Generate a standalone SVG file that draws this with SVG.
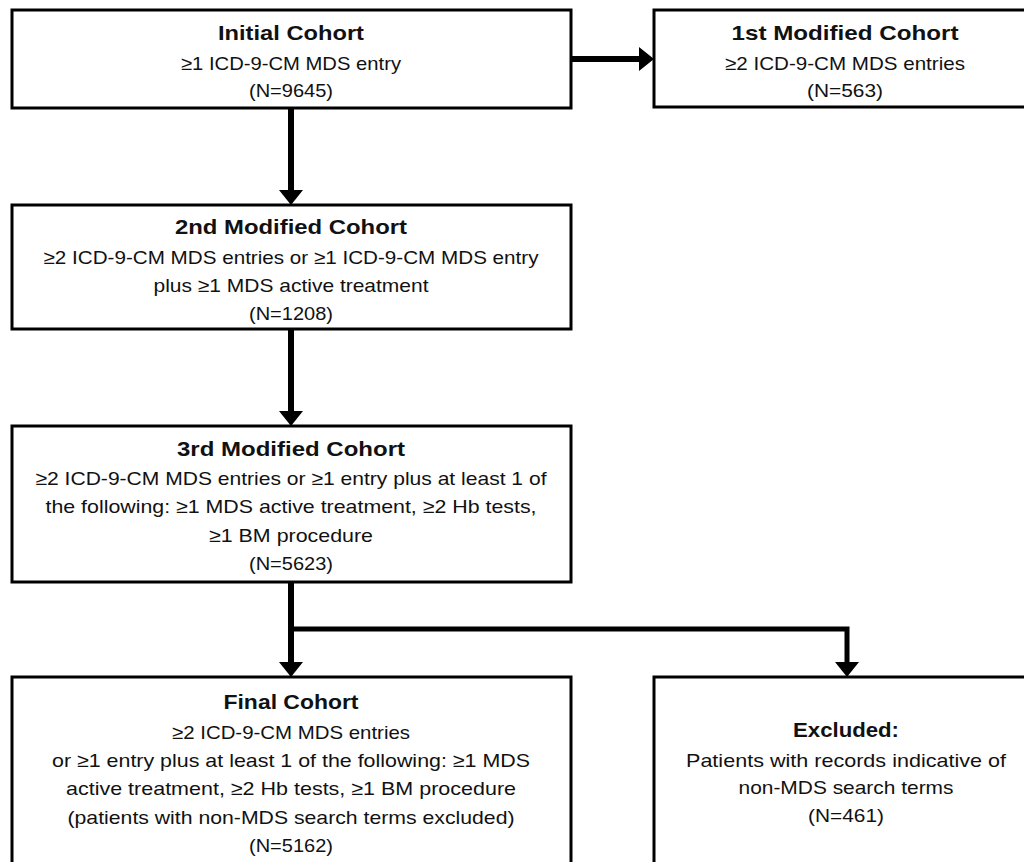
<svg xmlns="http://www.w3.org/2000/svg" width="1024" height="862" viewBox="0 0 1024 862">
<style>
.box{fill:#fff;stroke:#000;stroke-width:3}
.t{font-family:"Liberation Sans",Arial,sans-serif;font-size:19px;fill:#111;text-anchor:middle}
.h{font-family:"Liberation Sans",Arial,sans-serif;font-size:21px;font-weight:bold;fill:#111;text-anchor:middle}
.c{fill:none;stroke:#000;stroke-width:6}
.b{fill:none;stroke:#000;stroke-width:5}
</style>
<defs>
<marker id="ah" markerUnits="userSpaceOnUse" markerWidth="15" markerHeight="24" refX="0" refY="12" orient="auto" overflow="visible">
<path d="M0,0 L15,12 L0,24 Z" fill="#000"/>
</marker>
</defs>
<rect width="1024" height="862" fill="#fff"/>
<g id="connectors">
<line class="c" x1="571" y1="59" x2="639" y2="59" marker-end="url(#ah)"/>
<line class="c" x1="291" y1="108" x2="291" y2="190" marker-end="url(#ah)"/>
<line class="c" x1="291" y1="329" x2="291" y2="411" marker-end="url(#ah)"/>
<line class="c" x1="291" y1="582" x2="291" y2="662" marker-end="url(#ah)"/>
<polyline class="b" points="291,629 847,629 847,662" marker-end="url(#ah)"/>
</g>
<g id="initial">
<rect class="box" x="12" y="10" width="559" height="98"/>
<text class="h" x="291" y="40" textLength="146" lengthAdjust="spacingAndGlyphs">Initial Cohort</text>
<text class="t" x="291" y="70" textLength="220" lengthAdjust="spacingAndGlyphs">≥1 ICD-9-CM MDS entry</text>
<text class="t" x="291" y="97" textLength="84" lengthAdjust="spacingAndGlyphs">(N=9645)</text>
</g>
<g id="first">
<rect class="box" x="654" y="10" width="390" height="97"/>
<text class="h" x="845" y="40" textLength="227" lengthAdjust="spacingAndGlyphs">1st Modified Cohort</text>
<text class="t" x="845" y="70" textLength="240" lengthAdjust="spacingAndGlyphs">≥2 ICD-9-CM MDS entries</text>
<text class="t" x="845" y="97" textLength="76" lengthAdjust="spacingAndGlyphs">(N=563)</text>
</g>
<g id="second">
<rect class="box" x="12" y="205" width="559" height="124"/>
<text class="h" x="291" y="234" textLength="232" lengthAdjust="spacingAndGlyphs">2nd Modified Cohort</text>
<text class="t" x="291" y="264" textLength="495" lengthAdjust="spacingAndGlyphs">≥2 ICD-9-CM MDS entries or ≥1 ICD-9-CM MDS entry</text>
<text class="t" x="291" y="292" textLength="275" lengthAdjust="spacingAndGlyphs">plus ≥1 MDS active treatment</text>
<text class="t" x="291" y="320" textLength="84" lengthAdjust="spacingAndGlyphs">(N=1208)</text>
</g>
<g id="third">
<rect class="box" x="12" y="426" width="559" height="156"/>
<text class="h" x="291" y="456" textLength="228" lengthAdjust="spacingAndGlyphs">3rd Modified Cohort</text>
<text class="t" x="291" y="485" textLength="511" lengthAdjust="spacingAndGlyphs">≥2 ICD-9-CM MDS entries or ≥1 entry plus at least 1 of</text>
<text class="t" x="291" y="513" textLength="491" lengthAdjust="spacingAndGlyphs">the following: ≥1 MDS active treatment, ≥2 Hb tests,</text>
<text class="t" x="291" y="542" textLength="164" lengthAdjust="spacingAndGlyphs">≥1 BM procedure</text>
<text class="t" x="291" y="570" textLength="84" lengthAdjust="spacingAndGlyphs">(N=5623)</text>
</g>
<g id="final">
<rect class="box" x="12" y="677" width="559" height="200"/>
<text class="h" x="291" y="709" textLength="135" lengthAdjust="spacingAndGlyphs">Final Cohort</text>
<text class="t" x="291" y="739" textLength="238" lengthAdjust="spacingAndGlyphs">≥2 ICD-9-CM MDS entries</text>
<text class="t" x="291" y="767" textLength="478" lengthAdjust="spacingAndGlyphs">or ≥1 entry plus at least 1 of the following: ≥1 MDS</text>
<text class="t" x="291" y="795" textLength="450" lengthAdjust="spacingAndGlyphs">active treatment, ≥2 Hb tests, ≥1 BM procedure</text>
<text class="t" x="291" y="824" textLength="447" lengthAdjust="spacingAndGlyphs">(patients with non-MDS search terms excluded)</text>
<text class="t" x="291" y="852" textLength="84" lengthAdjust="spacingAndGlyphs">(N=5162)</text>
</g>
<g id="excluded">
<rect class="box" x="654" y="677" width="390" height="200"/>
<text class="h" x="846" y="737" textLength="106" lengthAdjust="spacingAndGlyphs">Excluded:</text>
<text class="t" x="846" y="767" textLength="320" lengthAdjust="spacingAndGlyphs">Patients with records indicative of</text>
<text class="t" x="846" y="794" textLength="215" lengthAdjust="spacingAndGlyphs">non-MDS search terms</text>
<text class="t" x="846" y="822" textLength="76" lengthAdjust="spacingAndGlyphs">(N=461)</text>
</g>
</svg>
